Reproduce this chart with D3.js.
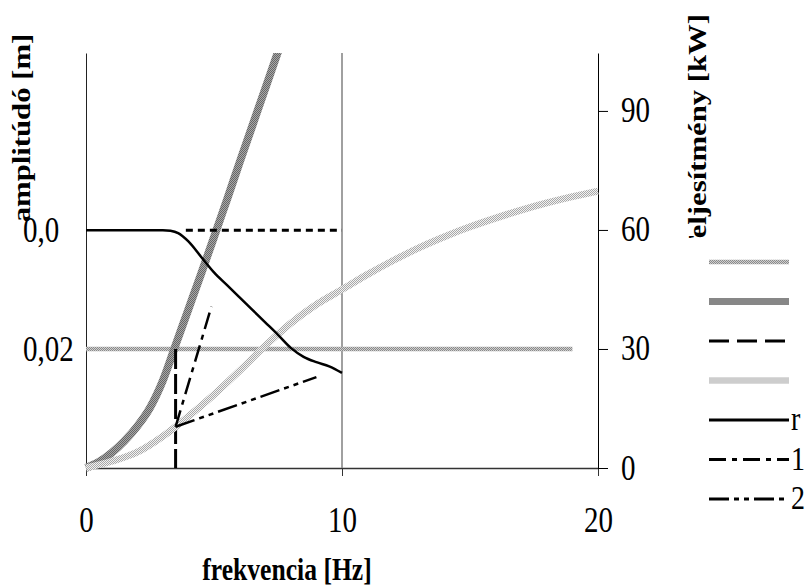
<!doctype html>
<html lang="en">
  <head>
    <meta charset="utf-8">
    <title>frekvencia</title>
    <script src="https://d3js.org/d3.v7.min.js"></script>
    <style>
        body { margin: 0; background: #fff; }
        svg { display: block; }
        text { font-family: "Liberation Serif", "DejaVu Serif", serif; fill: #000; }
    </style>
  </head>
  <body>
    <svg></svg>
    <script>
      // frequency axis
      var freqTicks = [0, 10, 20];
      // right axis: power [kW]
      var powerTicks = [0, 30, 60, 90];
      var powerMax = 104.6;
      // left axis: amplitude [m]
      var ampTicks = [0.02, 0.04];
      var ampTickLabels = ["0,02", "0,0"];
      var ampMax = 0.0698;

      // series 1 - horizontal (kW)
      var nominalF = [0, 19];
      var nominalP = [30, 30];
      // series 2 - thick curve (kW)
      var thickF = [0, 0.5, 1, 1.5, 2, 2.5, 3, 3.5, 4, 4.5, 5, 5.5, 6, 6.5, 7, 7.5, 8];
      var thickP = [0, 1.5, 3.8, 6.8, 10.5, 15.2, 22, 31, 40, 49, 58.2, 67.5, 77, 86.3, 95.6, 104.9, 114.2];
      // series 3 - dashed vertical (kW)
      var dashF = [3.5, 3.5];
      var dashP = [30, 0];
      // series 4 - light curve (kW)
      var lightF = [0, 1, 2, 3, 4, 5, 6, 7, 8, 9, 10, 11, 12, 13, 14, 15, 16, 17, 18, 19, 20];
      var lightP = [0, 1.7, 4, 8, 13, 18.5, 24.5, 30.8, 36.5, 41.2, 45, 48.8, 52.3, 55.5, 58.3, 60.8, 63, 65, 66.8, 68.4, 69.8];
      // r - amplitude (m)
      var rF = [0, 1, 2, 3, 3.3, 3.6, 4, 4.5, 5, 5.5, 6, 6.5, 7, 7.5, 8, 8.5, 9, 9.5, 10];
      var rAmp = [0.04, 0.04, 0.04, 0.04, 0.0399, 0.0395, 0.0381, 0.0355, 0.0329, 0.0308, 0.0287, 0.0266, 0.0245, 0.0224, 0.0202, 0.0187, 0.0178, 0.0171, 0.016];
      // 1 and 2 (kW)
      var line1F = [3.5, 4.9];
      var line1P = [10.4, 40.7];
      var line2F = [3.5, 9];
      var line2P = [10.4, 22.9];
      // short dashed level (m)
      var levelF = [3.9, 10];
      var levelAmp = [0.04, 0.04];

      var legendLabels = ["", "", "", "", "r", "1", "2"];

      var W = 810, H = 587;
      var svg = d3.select("svg").attr("width", W).attr("height", H);

      var x = d3.scaleLinear().domain([0, 20]).range([86, 598]);
      var yP = d3.scaleLinear().domain([0, powerMax]).range([468, 53]);
      var yA = d3.scaleLinear().domain([0, ampMax]).range([468, 53]);

      var defs = svg.append("defs");
      function stipple(id, c1, c2) {
        var p = defs.append("pattern").attr("id", id)
          .attr("patternUnits", "userSpaceOnUse").attr("width", 2).attr("height", 2);
        p.append("rect").attr("width", 2).attr("height", 2).attr("fill", c2);
        p.append("rect").attr("width", 1).attr("height", 1).attr("fill", c1);
        p.append("rect").attr("x", 1).attr("y", 1).attr("width", 1).attr("height", 1).attr("fill", c1);
      }
      stipple("st1", "#8a8a8a", "#cfcfcf");
      stipple("st2", "#666", "#a8a8a8");
      stipple("st4", "#a8a8a8", "#f2f2f2");

      defs.append("clipPath").attr("id", "plot")
        .append("rect").attr("x", 70).attr("y", 53).attr("width", 540).attr("height", 430);

      var font = 29;
      var stretch = "scale(1,1.2)";

      // x axis
      var gx = svg.append("g").attr("transform", "translate(0,468)")
        .call(d3.axisBottom(x).tickValues(freqTicks).tickSize(8).tickSizeOuter(0));
      gx.select(".domain").attr("stroke", "#333").attr("stroke-width", 1.5);
      gx.selectAll(".tick line").attr("stroke", "#333");
      gx.selectAll("text").attr("y", 0).attr("dy", 0)
        .attr("transform", "translate(0,64) " + stretch)
        .style("font-size", font + "px").style("font-family", "Liberation Serif");

      // vertical line at 10 Hz
      svg.append("line")
        .attr("x1", x(10)).attr("x2", x(10)).attr("y1", yP(powerMax)).attr("y2", yP(0))
        .attr("stroke", "#808080").attr("stroke-width", 1.5);

      // left axis
      var gl = svg.append("g").attr("transform", "translate(" + x(0) + ",0)")
        .call(d3.axisLeft(yA).tickValues(ampTicks).tickSize(0).tickSizeOuter(0)
          .tickFormat(function(d, i) { return ampTickLabels[i]; }));
      gl.select(".domain").attr("stroke", "#222");
      gl.selectAll("text").attr("x", 0).attr("dy", 0).attr("text-anchor", "start")
        .attr("transform", "translate(-63,11) " + stretch)
        .style("font-size", font + "px").style("font-family", "Liberation Serif");

      // right axis
      var gr = svg.append("g").attr("transform", "translate(" + x(20) + ",0)")
        .call(d3.axisRight(yP).tickValues(powerTicks).tickSize(10).tickSizeOuter(0));
      gr.select(".domain").attr("stroke", "#000");
      gr.selectAll("text").attr("x", 0).attr("dy", 0)
        .attr("transform", "translate(23,11) " + stretch)
        .style("font-size", font + "px").style("font-family", "Liberation Serif");

      // series
      var series = [
        { f: nominalF, v: nominalP, y: yP, stroke: "url(#st1)", width: 4.5, dash: null, curve: d3.curveLinear },
        { f: thickF, v: thickP, y: yP, stroke: "url(#st2)", width: 8, dash: null, curve: d3.curveMonotoneX },
        { f: dashF, v: dashP, y: yP, stroke: "#000", width: 3, dash: "20,5", curve: d3.curveLinear },
        { f: lightF, v: lightP, y: yP, stroke: "url(#st4)", width: 7, dash: null, curve: d3.curveMonotoneX },
        { f: rF, v: rAmp, y: yA, stroke: "#000", width: 2.5, dash: null, curve: d3.curveMonotoneX },
        { f: line1F, v: line1P, y: yP, stroke: "#000", width: 2.5, dash: "17,6,5,6", curve: d3.curveLinear },
        { f: line2F, v: line2P, y: yP, stroke: "#000", width: 2.5, dash: "20,5,5,5,5,5", curve: d3.curveLinear }
      ];

      var plot = svg.append("g").attr("clip-path", "url(#plot)");

      plot.selectAll(".series").data(series).enter()
        .append("path")
        .attr("class", "series")
        .attr("fill", "none")
        .attr("stroke", function(d) { return d.stroke; })
        .attr("stroke-width", function(d) { return d.width; })
        .attr("stroke-dasharray", function(d) { return d.dash; })
        .attr("d", function(d) {
          var pts = d.f.map(function(f, i) { return [f, d.v[i]]; });
          return d3.line().curve(d.curve)
            .x(function(p) { return x(p[0]); })
            .y(function(p) { return d.y(p[1]); })(pts);
        });

      // short dashed level line
      plot.append("path")
        .datum(levelF.map(function(f, i) { return [f, levelAmp[i]]; }))
        .attr("fill", "none").attr("stroke", "#000").attr("stroke-width", 3)
        .attr("stroke-dasharray", "7,5")
        .attr("d", d3.line().x(function(p) { return x(p[0]); }).y(function(p) { return yA(p[1]); }));

      // axis titles
      svg.append("text")
        .attr("transform", "translate(287,580) " + stretch)
        .attr("text-anchor", "middle")
        .style("font-size", "25.6px").style("font-weight", "bold")
        .text("frekvencia [Hz]");

      svg.append("text")
        .attr("transform", "translate(30,128) " + stretch + " rotate(-90)")
        .attr("text-anchor", "middle")
        .style("font-size", "25.6px").style("font-weight", "bold")
        .text("amplitúdó [m]");

      svg.append("text")
        .attr("transform", "translate(706,14) " + stretch + " rotate(-90)")
        .attr("text-anchor", "end")
        .style("font-size", "25.6px").style("font-weight", "bold")
        .text("Teljesítmény [kW]");

      // legend
      var legend = svg.append("g");
      legend.append("rect").attr("x", 683).attr("y", 238).attr("width", 127).attr("height", 290).attr("fill", "#fff");
      var ly = d3.scalePoint().domain(d3.range(series.length)).range([262, 499]);
      var items = legend.selectAll(".item").data(series).enter()
        .append("g").attr("class", "item")
        .attr("transform", function(d, i) { return "translate(0," + ly(i) + ")"; });
      items.append("line")
        .attr("x1", 709).attr("x2", 789)
        .attr("stroke", function(d) { return d.stroke; })
        .attr("stroke-width", function(d, i) { return i === 0 ? 4.5 : i === 1 ? 7 : i === 3 ? 6.5 : 3; })
        .attr("stroke-dasharray", function(d, i) { return i === 2 ? "20,8" : d.dash; });
      items.append("text")
        .attr("transform", "translate(791,10) " + stretch)
        .style("font-size", "28px")
        .text(function(d, i) { return legendLabels[i]; });
    </script>
  </body>
</html>
